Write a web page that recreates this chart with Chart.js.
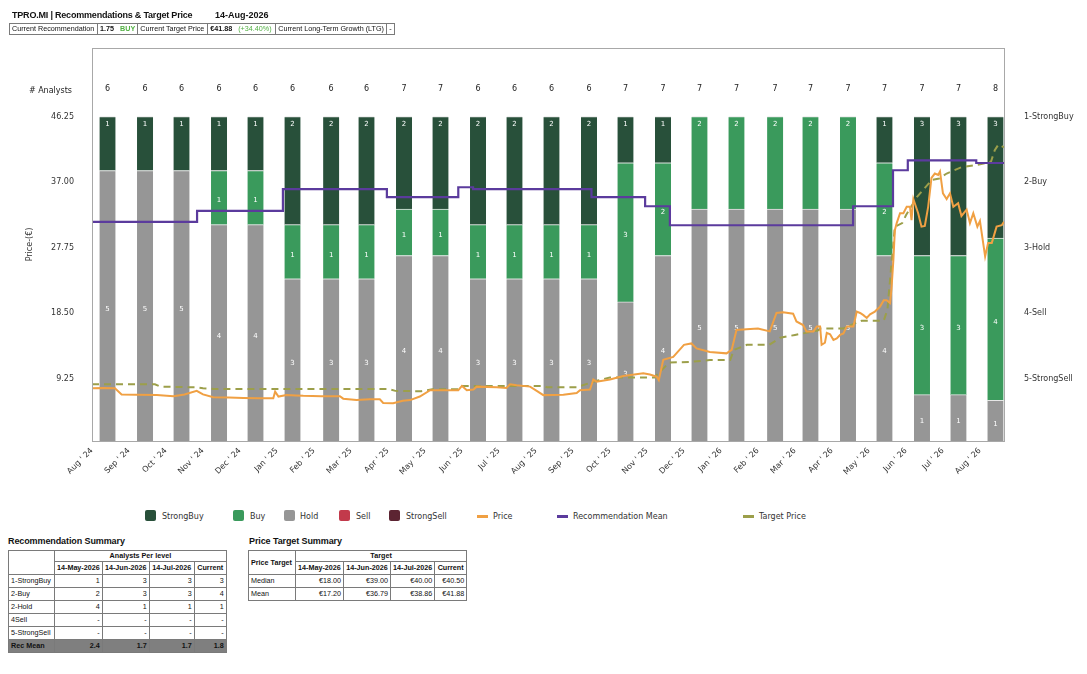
<!DOCTYPE html>
<html><head><meta charset="utf-8">
<script src="https://cdn.jsdelivr.net/npm/chart.js@4.4.1/dist/chart.umd.min.js"></script>
<style>
html,body{margin:0;padding:0;background:#fff;}
body{width:1087px;height:674px;position:relative;overflow:hidden;font-family:"Liberation Sans",Arial,sans-serif;color:#111;}
.abs{position:absolute;white-space:nowrap;}
#title{left:12px;top:9px;font-weight:bold;font-size:9px;letter-spacing:-0.2px;line-height:12px;}
#date{left:215px;top:9px;font-weight:bold;font-size:9px;line-height:12px;}
table{border-collapse:collapse;table-layout:fixed;position:absolute;font-size:7.2px;}
td{border:1px solid #7a7a7a;padding:0 2px;overflow:hidden;white-space:nowrap;line-height:1;}
#info td{height:10px;}
.b{font-weight:bold;}
.c{text-align:center;}
.r{text-align:right;}
.grn{color:#52b043;}
.ttl{font-weight:bold;font-size:9px;letter-spacing:-0.1px;}
.mean td{background:#7f7f7f;font-weight:bold;color:#111;}
.lg{position:absolute;font-family:"DejaVu Sans";font-size:8px;color:#333;line-height:10px;white-space:nowrap;}
.sw{position:absolute;width:11px;height:11px;border-radius:2px;}
.ln{position:absolute;width:11px;height:2.5px;}
</style>
</head><body>
<canvas id="c" width="1087" height="500" style="position:absolute;left:0;top:0;width:1087px;height:500px"></canvas>

<div id="title" class="abs">TPRO.MI | Recommendations &amp; Target Price</div>
<div id="date" class="abs">14-Aug-2026</div>
<table id="info" style="left:9px;top:23px;">
<colgroup><col style="width:88px"><col style="width:40px"><col style="width:70px"><col style="width:68px"><col style="width:111px"><col style="width:8px"></colgroup>
<tr><td>Current Recommendation</td><td><span class="b">1.75</span>&nbsp;&nbsp;&nbsp;<span class="grn b">BUY</span></td><td>Current Target Price</td><td><span class="b">€41.88</span>&nbsp;&nbsp;&nbsp;<span class="grn">(+34.40%)</span></td><td>Current Long-Term Growth (LTG)</td><td>-</td></tr>
</table>

<div id="legend"></div>

<div class="abs ttl" style="left:8px;top:536px;">Recommendation Summary</div>
<table id="t1" style="left:8px;top:550px;">
<colgroup><col style="width:46px"><col style="width:47px"><col style="width:47px"><col style="width:45px"><col style="width:32px"></colgroup>
</table>
<div class="abs ttl" style="left:249px;top:536px;">Price Target Summary</div>
<table id="t2" style="left:248px;top:550px;">
<colgroup><col style="width:47px"><col style="width:48px"><col style="width:47px"><col style="width:44px"><col style="width:32px"></colgroup>
</table>

<script>
// ---------------- DATA ----------------
const MONTHS = ['Jan','Feb','Mar','Apr','May','Jun','Jul','Aug','Sep','Oct','Nov','Dec'];
const barDates = ['14-Aug-2024','14-Sep-2024','14-Oct-2024','14-Nov-2024','14-Dec-2024','14-Jan-2025','14-Feb-2025','14-Mar-2025','14-Apr-2025','14-May-2025','14-Jun-2025','14-Jul-2025','14-Aug-2025','14-Sep-2025','14-Oct-2025','14-Nov-2025','14-Dec-2025','14-Jan-2026','14-Feb-2026','14-Mar-2026','14-Apr-2026','14-May-2026','14-Jun-2026','14-Jul-2026','14-Aug-2026'];
const strongBuy  = [1,1,1,1,1,2,2,2,2,2,2,2,2,2,1,1,0,0,0,0,0,1,3,3,3];
const buy        = [0,0,0,1,1,1,1,1,1,1,1,1,1,1,3,2,2,2,2,2,2,2,3,3,4];
const hold       = [5,5,5,4,4,3,3,3,4,4,3,3,3,3,3,4,5,5,5,5,5,4,1,1,1];
const sell       = [0,0,0,0,0,0,0,0,0,0,0,0,0,0,0,0,0,0,0,0,0,0,0,0,0];
const strongSell = [0,0,0,0,0,0,0,0,0,0,0,0,0,0,0,0,0,0,0,0,0,0,0,0,0];

// x values are months elapsed since 1-Aug-2024
const priceMonths = [0,0.3,0.62,0.8,1.2,1.75,2.2,2.5,2.83,3.0,3.28,3.7,4.09,4.5,4.9,4.95,5.04,5.26,5.5,5.71,6.2,6.7,6.79,7.15,7.5,7.78,7.87,8.14,8.4,8.6,8.86,9.14,9.5,9.9,10.0,10.13,10.31,10.4,10.94,11.2,11.3,11.48,11.84,12.02,12.2,12.74,13.1,13.19,13.46,13.55,13.64,14.0,14.36,14.9,15.08,15.26,15.32,15.44,15.71,16.0,16.2,16.34,16.7,17.15,17.29,17.42,17.69,18.0,18.32,18.5,18.68,18.95,19.04,19.22,19.31,19.5,19.59,19.68,19.72,19.81,19.86,19.95,20.04,20.13,20.22,20.31,20.4,20.58,20.67,20.76,20.85,20.94,21.03,21.16,21.3,21.4,21.48,21.57,21.61,21.66,21.7,21.75,21.84,21.93,22.02,22.11,22.15,22.2,22.33,22.42,22.51,22.6,22.69,22.78,22.87,22.92,23.0,23.1,23.19,23.28,23.41,23.5,23.64,23.73,23.82,23.93,24.0,24.14,24.22,24.32,24.45,24.59,24.65];
const priceValues = [7.86,7.9,7.86,7.0,6.95,6.9,6.75,7.0,7.5,7.0,6.6,6.55,6.5,6.45,6.45,7.4,6.7,6.9,6.85,6.8,6.75,6.75,6.4,6.2,6.3,6.3,5.8,5.75,6.1,6.2,6.7,7.6,7.6,7.6,8.2,7.6,7.7,8.1,8.0,7.9,8.43,8.3,8.1,7.5,6.9,6.95,7.2,7.6,7.7,9.1,8.8,9.1,9.6,9.98,9.8,9.5,9.0,11.9,12.3,14.0,14.2,13.5,13.0,12.8,13.3,16.1,16.2,16.3,15.9,18.5,18.6,18.4,17.3,16.8,15.9,15.9,16.6,16.6,14.0,14.3,15.7,15.5,14.7,14.9,15.4,15.6,16.6,16.6,18.7,18.5,18.2,17.8,18.3,18.7,19.4,20.3,20.3,19.9,22.0,26.0,30.2,31.2,32.6,32.6,33.5,33.5,31.6,34.6,32.6,30.7,30.8,33.5,37.6,38.2,38.0,38.5,35.4,34.6,35.4,33.5,34.0,32.2,33.1,31.2,32.6,30.7,31.5,26.5,28.4,28.4,30.7,30.9,31.4];

const targetMonths = [0,1.7,1.85,2.8,3.0,3.3,8.0,8.2,8.9,9.2,9.9,10.0,12.2,12.3,13.1,13.5,13.7,14.0,15.2,15.6,16.2,16.7,17.25,17.35,17.7,18.3,18.6,19.0,19.6,19.7,20.3,20.6,20.8,21.4,21.5,21.6,21.7,21.9,22.0,22.3,22.4,22.7,22.9,23.1,23.5,23.9,24.1,24.3,24.4,24.5,24.65];
const targetValues = [8.43,8.43,8.1,8.0,7.86,7.77,7.77,7.5,7.45,7.72,7.72,8.2,8.2,8.0,8.0,8.7,9.0,9.4,9.4,11.5,11.6,11.86,11.86,13.3,14.0,14.0,15.0,15.4,16.0,16.3,16.3,17.0,17.4,17.4,19.0,25.0,30.7,31.2,32.3,34.9,35.5,37.3,37.5,38.2,39.1,39.4,39.6,39.9,41.5,42.3,41.9];

const recMonths = [0,2.84,5.16,7.97,9.9,10.3,13.5,14.95,15.62,20.57,21.65,22.05,23.9,24.65];
const recValues = [2.61,2.44,2.11,2.23,2.08,2.11,2.23,2.37,2.66,2.37,1.82,1.67,1.71,1.71];

const xTickLabels = ["Aug ' 24","Sep ' 24","Oct ' 24","Nov ' 24","Dec ' 24","Jan ' 25","Feb ' 25","Mar ' 25","Apr ' 25","May ' 25","Jun ' 25","Jul ' 25","Aug ' 25","Sep ' 25","Oct ' 25","Nov ' 25","Dec ' 25","Jan ' 26","Feb ' 26","Mar ' 26","Apr ' 26","May ' 26","Jun ' 26","Jul ' 26","Aug ' 26"];
const priceTicks = [9.25,18.5,27.75,37,46.25];
const recTickLabels = ['1-StrongBuy','2-Buy','3-Hold','4-Sell','5-StrongSell'];

const summaryDates = ['14-May-2026','14-Jun-2026','14-Jul-2026','Current'];
const summaryLevels = ['1-StrongBuy','2-Buy','2-Hold','4Sell','5-StrongSell'];
const summaryCounts = [['1','3','3','3'],['2','3','3','4'],['4','1','1','1'],['-','-','-','-'],['-','-','-','-']];
const summaryRecMean = ['2.4','1.7','1.7','1.8'];
const targetMedian = ['€18.00','€39.00','€40.00','€40.50'];
const targetMean = ['€17.20','€36.79','€38.86','€41.88'];

// ---------------- STYLE ----------------
const COL = {sb:'#28503a', b:'#3a9a5c', h:'#969696', s:'#c23a4b', ss:'#5c2432', price:'#f0a043', rec:'#5b3b9d', target:'#9c9f4a'};
const FONT = 'DejaVu Sans';

function monthOffset(d){
  const [dd,mmm,yy] = d.split('-');
  const mi = MONTHS.indexOf(mmm), y = +yy;
  const dim = new Date(y, mi+1, 0).getDate();
  return (y-2024)*12 + mi - 7 + (dd-1)/dim;
}
const totals = barDates.map((_,i)=>strongBuy[i]+buy[i]+hold[i]+sell[i]+strongSell[i]);
const barX = barDates.map(monthOffset);
function barDs(label, counts, color){
  return {type:'bar', label, yAxisID:'yb', order:3, grouped:false, barThickness:16,
    backgroundColor:color, borderColor:'#e6e6e6', borderWidth:{top:1,bottom:0,left:0,right:0}, borderSkipped:false,
    counts,
    data: barX.map((x,i)=>({x, y: counts[i] ? counts[i]/totals[i]*100 : null}))};
}
const pairs = (xs, ys) => xs.map((x,i)=>({x, y: ys[i]}));

const labelsPlugin = {
  id:'labels',
  afterDatasetDraw(chart, args){
    if (args.index !== 0) return; // last bar dataset drawn
    const ctx = chart.ctx;
    ctx.save();
    ctx.font = '7px "'+FONT+'"';
    ctx.fillStyle = '#ffffff';
    ctx.textAlign = 'center';
    ctx.textBaseline = 'middle';
    for (let i=0;i<barX.length;i++){
      let topDs = -1;
      for (let d=0; d<5; d++) if (chart.data.datasets[d].counts[i]) topDs = d;
      for (let d=0; d<5; d++){
        const c = chart.data.datasets[d].counts[i];
        if (!c) continue;
        const el = chart.getDatasetMeta(d).data[i];
        const yy = (d === topDs) ? el.y + 8 : (el.y + el.base)/2 + 3;
        ctx.fillText(String(c), el.x, yy);
      }
    }
    ctx.restore();
  },
  afterDraw(chart){
    const ctx = chart.ctx, a = chart.chartArea;
    ctx.save();
    ctx.strokeStyle = '#a8a8a8'; ctx.lineWidth = 1;
    ctx.strokeRect(Math.round(a.left)+0.5, Math.round(a.top)+0.5, Math.round(a.right-a.left), Math.round(a.bottom-a.top));
    ctx.font = '8px "'+FONT+'"';
    ctx.fillStyle = '#222';
    ctx.textBaseline = 'middle';
    ctx.textAlign = 'right';
    ctx.fillText('# Analysts', 72, 91);
    ctx.textAlign = 'center';
    for (let i=0;i<barX.length;i++){
      const px = chart.scales.x.getPixelForValue(barX[i]);
      ctx.fillText(String(totals[i]), px, 89);
    }
    ctx.restore();
  }
};

const tickFont = {family:FONT, size:8};
new Chart(document.getElementById('c'), {
  type:'bar',
  data:{datasets:[
    barDs('StrongSell', strongSell, COL.ss),
    barDs('Sell', sell, COL.s),
    barDs('Hold', hold, COL.h),
    barDs('Buy', buy, COL.b),
    barDs('StrongBuy', strongBuy, COL.sb),
    {type:'line', label:'Price', yAxisID:'y', order:0, data:pairs(priceMonths, priceValues), borderColor:COL.price, borderWidth:2, pointRadius:0, tension:0, fill:false},
    {type:'line', label:'Recommendation Mean', yAxisID:'y2', order:1, data:pairs(recMonths, recValues), stepped:'before', borderColor:COL.rec, borderWidth:2.2, pointRadius:0, fill:false},
    {type:'line', label:'Target Price', yAxisID:'y', order:1, data:pairs(targetMonths, targetValues), borderColor:COL.target, borderWidth:2, borderDash:[7,5], pointRadius:0, tension:0, fill:false}
  ]},
  options:{
    responsive:false, animation:false, devicePixelRatio:1,
    layout:{padding:{top:48,left:0,right:0,bottom:0}},
    plugins:{legend:{display:false}, tooltip:{enabled:false}},
    scales:{
      x:{type:'linear', min:0, max:24.65, offset:false,
         grid:{display:false, drawTicks:false}, border:{display:false},
         ticks:{font:tickFont, color:'#333', minRotation:45, maxRotation:45, autoSkip:false, padding:5, includeBounds:false,
                callback:(v)=>xTickLabels[v] ?? ''},
         afterBuildTicks:(s)=>{ s.ticks = xTickLabels.map((_,i)=>({value:i})); },
         afterFit:(s)=>{ s.height = 59; }},
      y:{position:'left', min:0.42, max:55.93,
         grid:{display:false, drawTicks:false}, border:{display:false},
         ticks:{font:tickFont, color:'#333', padding:18, callback:(v)=>v.toFixed(2)},
         afterBuildTicks:(s)=>{ s.ticks = priceTicks.map(v=>({value:v})); },
         title:{display:true, text:'Price-(€)', font:{family:FONT, size:8}, color:'#333', padding:{top:25,bottom:0}},
         afterFit:(s)=>{ s.width = 92; }},
      y2:{position:'right', reverse:true, min:-0.0465, max:5.955,
         grid:{display:false, drawTicks:false}, border:{display:false},
         ticks:{font:tickFont, color:'#333', padding:20, callback:(v)=>recTickLabels[v-1] ?? ''},
         afterBuildTicks:(s)=>{ s.ticks = recTickLabels.map((_,i)=>({value:i+1})); },
         afterFit:(s)=>{ s.width = 83; }},
      yb:{display:false, stacked:true, min:0, max:121.1}
    }
  },
  plugins:[labelsPlugin]
});

// ---------------- LEGEND (HTML) ----------------
const legendItems = [
  {t:'StrongBuy', c:COL.sb, k:'sw', x:145, tx:162},
  {t:'Buy', c:COL.b, k:'sw', x:233, tx:250},
  {t:'Hold', c:COL.h, k:'sw', x:284, tx:300},
  {t:'Sell', c:COL.s, k:'sw', x:339, tx:356},
  {t:'StrongSell', c:COL.ss, k:'sw', x:389, tx:406},
  {t:'Price', c:COL.price, k:'ln', x:477, tx:493},
  {t:'Recommendation Mean', c:COL.rec, k:'ln', x:557, tx:573},
  {t:'Target Price', c:COL.target, k:'ln', x:743, tx:759}
];
const lg = document.getElementById('legend');
legendItems.forEach(it=>{
  const m = document.createElement('div');
  m.className = it.k; m.style.background = it.c; m.style.left = it.x+'px';
  m.style.top = (it.k==='sw' ? 510 : 515)+'px';
  lg.appendChild(m);
  const t = document.createElement('div');
  t.className = 'lg'; t.textContent = it.t; t.style.left = it.tx+'px'; t.style.top = '512px';
  lg.appendChild(t);
});

// ---------------- TABLES ----------------
function row(cells, cls, h){
  const tr = document.createElement('tr');
  if (cls) tr.className = cls;
  tr.style.height = h+'px';
  cells.forEach(c=>{
    const td = document.createElement('td');
    td.innerHTML = c.h;
    if (c.cls) td.className = c.cls;
    if (c.rs) td.rowSpan = c.rs;
    if (c.cs) td.colSpan = c.cs;
    tr.appendChild(td);
  });
  return tr;
}
const t1 = document.getElementById('t1');
t1.appendChild(row([{h:'',rs:2},{h:'Analysts Per level',cs:4,cls:'c b'}],'',11));
t1.appendChild(row(summaryDates.map(d=>({h:d,cls:'c b'})),'',12.6));
summaryLevels.forEach((l,i)=>t1.appendChild(row([{h:l}].concat(summaryCounts[i].map(v=>({h:v,cls:'r'}))),'',13)));
t1.appendChild(row([{h:'Rec Mean',cls:'b'}].concat(summaryRecMean.map(v=>({h:v,cls:'r b'}))),'mean',13));
const t2 = document.getElementById('t2');
t2.appendChild(row([{h:'Price Target',rs:2,cls:'b'},{h:'Target',cs:4,cls:'c b'}],'',11));
t2.appendChild(row(summaryDates.map(d=>({h:d,cls:'c b'})),'',12.6));
t2.appendChild(row([{h:'Median'}].concat(targetMedian.map(v=>({h:v,cls:'r'}))),'',13));
t2.appendChild(row([{h:'Mean'}].concat(targetMean.map(v=>({h:v,cls:'r'}))),'',13));
</script>
</body></html>
